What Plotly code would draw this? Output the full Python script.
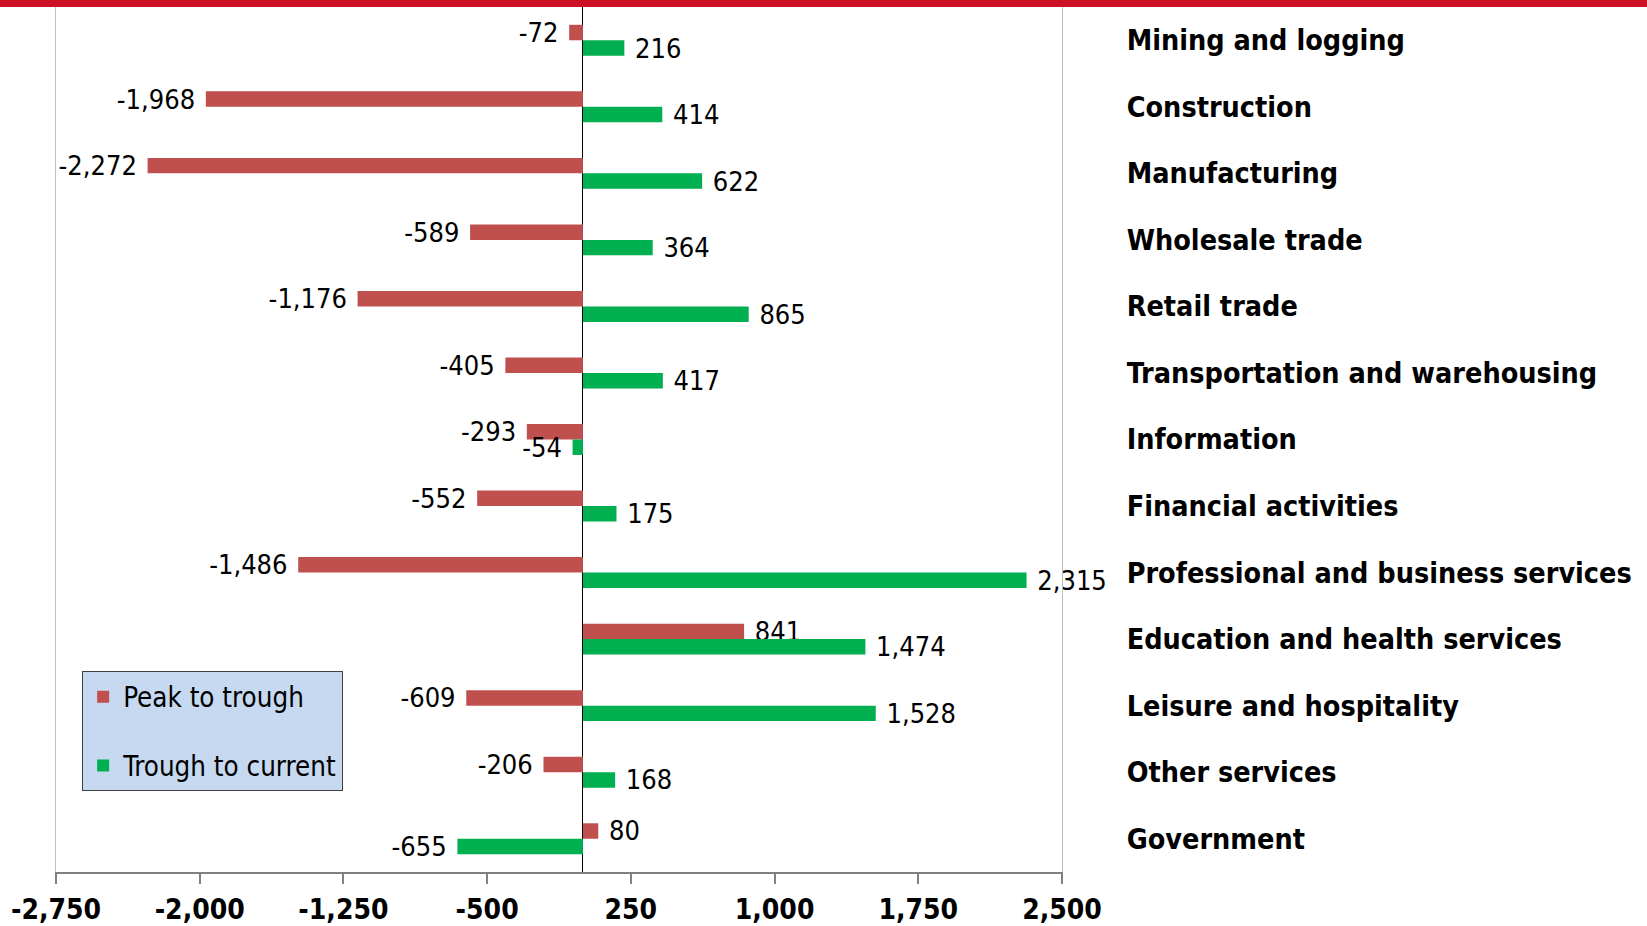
import plotly.graph_objects as go

# --- DATA ---
categories = [
    "Mining and logging", "Construction", "Manufacturing", "Wholesale trade",
    "Retail trade", "Transportation and warehousing", "Information",
    "Financial activities", "Professional and business services",
    "Education and health services", "Leisure and hospitality",
    "Other services", "Government",
]
peak_to_trough = [-72, -1968, -2272, -589, -1176, -405, -293, -552, -1486, 841, -609, -206, 80]
trough_to_current = [216, 414, 622, 364, 865, 417, -54, 175, 2315, 1474, 1528, 168, -655]
tick_vals = [-2750, -2000, -1250, -500, 250, 1000, 1750, 2500]
tick_text = ["-2,750", "-2,000", "-1,250", "-500", "250", "1,000", "1,750", "2,500"]

FONT = "DejaVu Sans Condensed, DejaVu Sans, sans-serif"


def label(v):
    # a space between the bar end and the number, like the original
    return f"{v:,} " if v < 0 else f" {v:,}"


fig = go.Figure()

series = [
    ("Peak to trough", peak_to_trough, "#C0504D"),
    ("Trough to current", trough_to_current, "#00B050"),
]
for name, vals, color in series:
    fig.add_trace(go.Bar(
        y=categories, x=vals, name=name, orientation="h",
        marker=dict(color=color, line=dict(width=0)),
        text=[label(v) for v in vals], textposition="outside",
        textfont=dict(family=FONT, size=27, color="black"),
        constraintext="none", cliponaxis=False,
        legendgroup=name,
    ))

fig.update_layout(
    width=1647, height=926,
    margin=dict(l=56, r=585, t=7, b=54, autoexpand=False),
    paper_bgcolor="white", plot_bgcolor="white",
    barmode="group", bargap=0.535, bargroupgap=0,
    font=dict(family=FONT, color="black"),
    legend=dict(
        x=0.026, y=0.232, xanchor="left", yanchor="top",
        bgcolor="#C6D9F1", bordercolor="#404040", borderwidth=1,
        font=dict(family=FONT, size=27.5, color="black"),
        tracegroupgap=30, itemwidth=30,
    ),
    shapes=[dict(
        type="rect", xref="paper", yref="paper",
        x0=-56 / 1006, x1=(1647 - 56) / 1006, y0=1, y1=1 + 7 / 865,
        fillcolor="#CC1126", line=dict(width=0), layer="above",
    )],
)

fig.update_xaxes(
    range=[-2750, 2500], tickvals=tick_vals, ticktext=tick_text,
    tickfont=dict(family=FONT, size=28, color="black", weight="bold"),
    showgrid=False, zeroline=True, zerolinecolor="black", zerolinewidth=1,
    showline=True, linecolor="#808080", linewidth=2,
    ticks="outside", ticklen=10, tickcolor="#808080", tickwidth=1.5,
    ticklabelstandoff=1, automargin=False,
)
fig.update_yaxes(
    type="category", categoryorder="array", categoryarray=categories,
    autorange="reversed", side="right",
    tickfont=dict(family=FONT, size=28.5, color="black", weight="bold"),
    showgrid=False, showline=True, mirror=True, linecolor="#BFBFBF", linewidth=1,
    ticks="", ticklabelstandoff=58, automargin=False,
)

# page has a default 8px body margin; drop it so the figure fills the window
fig.write_html("out.html", config={"displayModeBar": False},
               post_script="document.body.style.margin='0';")
